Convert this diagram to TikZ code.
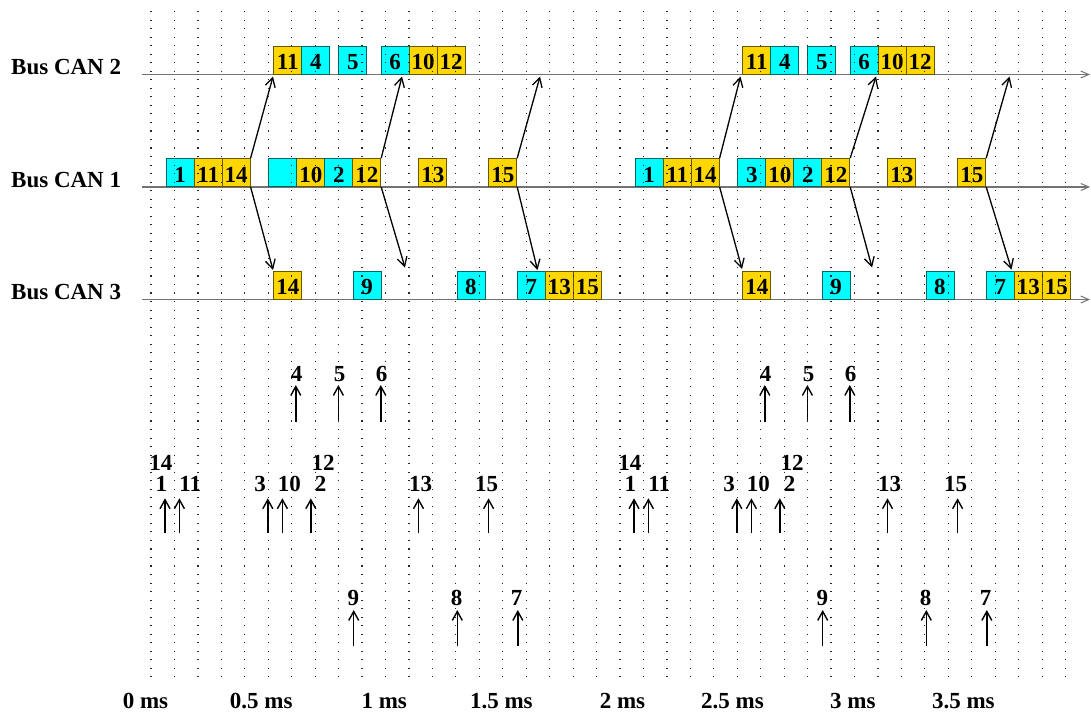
\documentclass[tikz,border=0pt]{standalone}
\usepackage{fontspec}
\setmainfont{Liberation Serif}
\usetikzlibrary{arrows.meta}
\definecolor{mc}{RGB}{0,255,255}
\definecolor{mg}{RGB}{255,215,0}
\tikzset{
  bf/.style={font=\fontsize{23}{25}\selectfont\bfseries},
  msg/.style={bf, line width=0.9pt, minimum width=28pt, minimum height=28pt,
    inner sep=0pt, text height=19pt, text depth=0pt, anchor=south west},
  busline/.style={line width=1.4pt, black!55, -{Straight Barb[length=8pt,width=7pt,line width=1pt]}},
  hop/.style={line width=1.3pt, -{Straight Barb[length=9pt,width=10pt]}},
  rel/.style={line width=1.4pt, -{Straight Barb[length=9pt,width=10pt]}},
  lab/.style={bf, inner sep=0pt, anchor=base},
  griddots/.style={line width=1.2pt, black!85, dash pattern=on 1.1pt off 7.43pt}
}
\begin{document}
\begin{tikzpicture}[x=1pt,y=-1pt]
\fill[white] (0,0) rectangle (1091,713);
\useasboundingbox (0,0) rectangle (1091,713);

% bus lines and labels
\foreach \n/\y in {2/74.5,1/187,3/299.5}{
  \coordinate (bus\n s) at (142,\y);
  \coordinate (bus\n e) at (1090,\y);
  \draw[busline] (bus\n s) -- (bus\n e);
  \node[bf, inner sep=0pt, anchor=base west] (lbus\n) at (11,\y) {Bus CAN \n};
}

% message boxes, two cycles
\foreach \o/\s in {0/a,469/b}{
  \foreach \x/\t/\c in {273.4/11/mg, 301.4/4/mc, 338.3/5/mc, 380.7/6/mc, 408.7/10/mg, 436.7/12/mg}
    \node[msg, fill=\c, draw=\c!40!black] (c2-\t\s) at ({\x+\o},74.5) {\t};
  \foreach \x/\t/\c in {165.7/1/mc, 193.7/11/mg, 221.7/14/mg, 296.3/10/mg, 324.3/2/mc, 352.3/12/mg, 418.3/13/mg, 488.3/15/mg}
    \node[msg, fill=\c, draw=\c!40!black] (c1-\t\s) at ({\x+\o},187) {\t};
  \foreach \x/\t/\c in {273.4/14/mg, 352.7/9/mc, 456.5/8/mc, 517/7/mc, 545/13/mg, 573/15/mg}
    \node[msg, fill=\c, draw=\c!40!black] (c3-\t\s) at ({\x+\o},299.5) {\t};
}
\node[msg, fill=mc, draw=mc!40!black] (c1-3a) at (268.3,187) {};
\node[msg, fill=mc, draw=mc!40!black] (c1-3b) at (737.3,187) {3};

% gateway arrows CAN1 -> CAN2 / CAN3
\coordinate (u1a) at (273,76.5);   \coordinate (u2a) at (402,76.5);   \coordinate (u3a) at (540,76.5);
\coordinate (u1b) at (740.5,76.5); \coordinate (u2b) at (876,76.5);   \coordinate (u3b) at (1009.5,76.5);
\coordinate (d1a) at (273,270);    \coordinate (d2a) at (405,267.5);  \coordinate (d3a) at (537.5,270);
\coordinate (d1b) at (742,269);    \coordinate (d2b) at (872,267.5);  \coordinate (d3b) at (1011.5,269.5);
\foreach \s in {a,b}{
  \draw[hop] (c1-14\s.north east) -- (u1\s);
  \draw[hop] (c1-12\s.north east) -- (u2\s);
  \draw[hop] (c1-15\s.north east) -- (u3\s);
  \draw[hop] (c1-14\s.south east) -- (d1\s);
  \draw[hop] (c1-12\s.south east) -- (d2\s);
  \draw[hop] (c1-15\s.south east) -- (d3\s);
}

% release arrows
\foreach \o/\s in {0/a,469/b}{
  % row A
  \foreach \ax/\lx/\t in {295.8/296.7/4, 338.4/339.5/5, 380.8/381.7/6}{
    \coordinate (rs\t\s) at ({\ax+\o},421.7);
    \coordinate (re\t\s) at ({\ax+\o},385);
    \draw[rel] (rs\t\s) -- (re\t\s);
    \node[lab] (l\t\s) at ({\lx+\o},381.7) {\t};
  }
  % row B
  \foreach \ax/\lx/\t in {165/161.3/1, 179.4/190.3/11, 267.8/260/3, 282.4/289.3/10, 310.8/320.7/2, 418.5/420.7/13, 488.6/486.7/15}{
    \coordinate (rs\t\s) at ({\ax+\o},533.3);
    \coordinate (re\t\s) at ({\ax+\o},498.3);
    \draw[rel] (rs\t\s) -- (re\t\s);
    \node[lab] (l\t\s) at ({\lx+\o},491.7) {\t};
  }
  \node[lab] (l14\s) at ({160.8+\o},470) {14};
  \node[lab] (l12\s) at ({323+\o},470) {12};
  % row C
  \foreach \ax/\lx/\t in {353.7/353.3/9, 457.3/456.7/8, 517.8/516.7/7}{
    \coordinate (rs\t\s) at ({\ax+\o},646);
    \coordinate (re\t\s) at ({\ax+\o},610);
    \draw[rel] (rs\t\s) -- (re\t\s);
    \node[lab] (l\t\s) at ({\lx+\o},605) {\t};
  }
}

% time axis labels
\foreach \x/\t [count=\i] in {145.5/0 ms, 261.3/0.5 ms, 384.2/1 ms, 501.3/1.5 ms, 622.5/2 ms, 732.5/2.5 ms, 852.8/3 ms, 963.3/3.5 ms}
  \node[lab] (t\i) at (\x,708.3) {\t};

% dotted grid (drawn on top)
\foreach \k in {0,...,39}
  \draw[griddots] ({151+23.45*\k},11) -- ({151+23.45*\k},678);
\end{tikzpicture}
\end{document}
